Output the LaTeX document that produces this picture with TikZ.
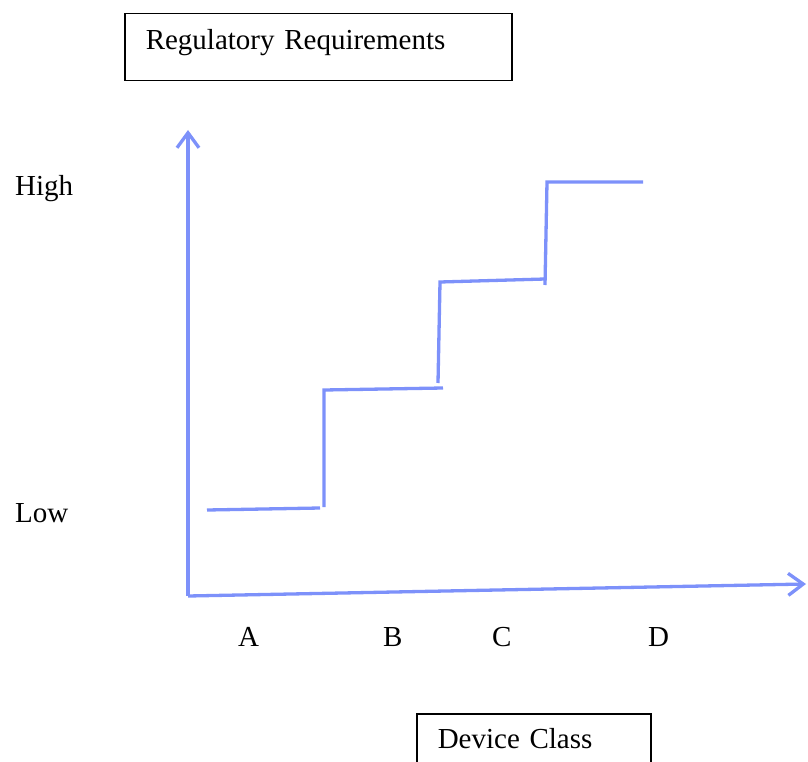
\documentclass[tikz,border=0pt]{standalone}
\usepackage{fontspec}
\setmainfont{Liberation Serif}
\usepackage{xcolor}
\usetikzlibrary{arrows.meta,
	positioning}
\definecolor{stepblue}{RGB}{125,145,250}

\begin{document}
\begin{tikzpicture}[x=1pt, y=-1pt,
        font=\fontsize{29}{34}\selectfont,
        labelbox/.style={draw=black, line width=1.5pt, anchor=north west, inner xsep=21pt, inner ysep=0pt, align=left},
        axisline/.style={stepblue, line width=3.3pt, -{Straight Barb[length=15pt, width=22pt]}},
        stairline/.style={stepblue, line width=3.3pt}]
            \clip (0, 0) rectangle (808, 762);

            % titles of the two axes
            \node[labelbox, text width=345pt, text height=36pt, text depth=31pt] (reqbox) at (124, 13) {Regulatory Requirements};
            \node[labelbox, text width=192pt, text height=35pt, text depth=40pt] (classbox) at (416, 713) {Device Class};

            % axes
            \coordinate (origin) at (188, 596);
            \coordinate (ytip) at (188, 130);
            \coordinate (xtip) at (806, 584);
            \draw[axisline] (origin) -- (ytip);
            \draw[axisline] (origin) -- (xtip);

            % levels and classes
            \node[anchor=base west, inner sep=0pt] (high) at (15, 196) {High};
            \node[anchor=base west, inner sep=0pt] (low) at (15, 522) {Low};
            \foreach \cls/\xpos in {A/238, B/383, C/492, D/648}
                \node[anchor=base west, inner sep=0pt] (class\cls) at (\xpos, 646) {\cls};

            % the stairs
            \begin{scope}[stairline]
                \draw (207, 510) -- (320, 508);
                \draw (324, 507) -- (324, 390) -- (443, 388);
                \draw (438, 383) -- (440, 282) -- (545, 279);
                \draw (545, 285) -- (547, 182) -- (643, 182);
            \end{scope}
        \end{tikzpicture}
\end{document}
